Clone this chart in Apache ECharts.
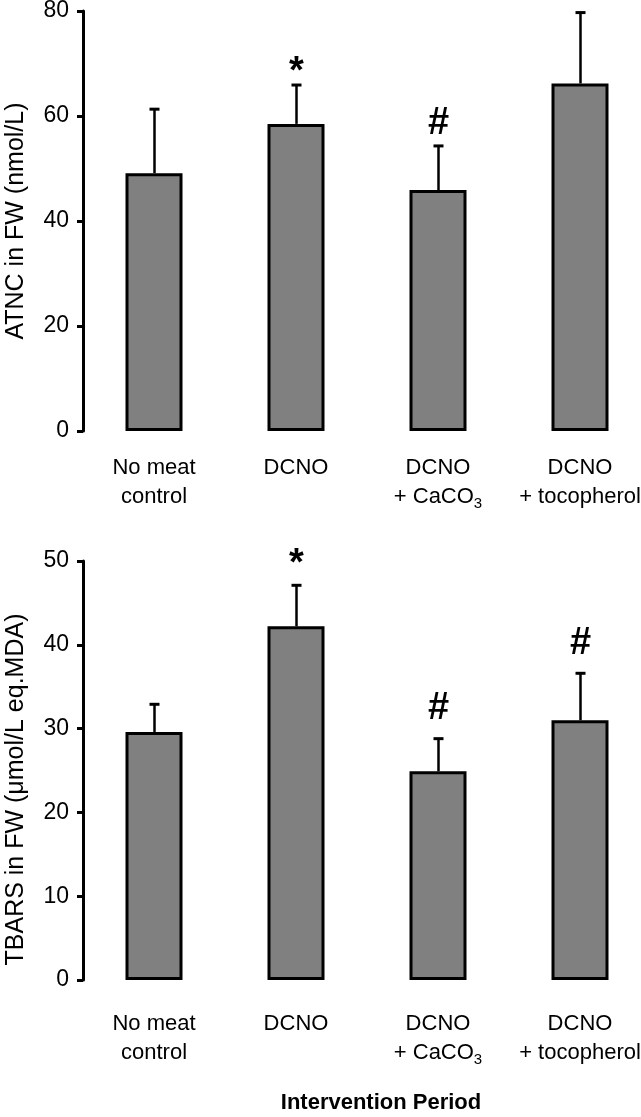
<!DOCTYPE html>
<html>
<head>
<meta charset="utf-8">
<script src="https://cdn.jsdelivr.net/npm/echarts@6/dist/echarts.min.js"></script>
<style>
  html, body { margin: 0; padding: 0; background: #fff; }
  #chart { width: 641px; height: 1117px; }
</style>
</head>
<body>
<div id="chart"></div>
<script>
// ---- data ----
var categories = ['No meat\ncontrol', 'DCNO', 'DCNO\n+ CaCO{sub|3}', 'DCNO\n+ tocopherol'];
var atncMean = [49.1, 58.5, 45.9, 66.2];
var atncSD = [12.2, 7.4, 8.4, 13.5];
var atncMarks = ['', '*', '#', ''];
var tbarsMean = [29.6, 42.2, 24.9, 31.0];
var tbarsSD = [3.3, 4.9, 3.9, 5.6];
var tbarsMarks = ['', '*', '#', '#'];
var atncTicks = { min: 0, max: 80, interval: 20 };
var tbarsTicks = { min: 0, max: 50, interval: 10 };

var FONT = '"Liberation Sans", Arial, Helvetica, sans-serif';

function errData(mean, sd) {
  return mean.map(function (m, i) { return [i, m, sd[i]]; });
}

function makeErrRender(marks, gap) {
  return function (params, api) {
    var i = api.value(0), m = api.value(1), sd = api.value(2);
    var mark = marks[params.dataIndex];
    var base = api.coord([i, m]);
    var top = api.coord([i, m + sd]);
    var x = Math.round(base[0]) + 0.5;
    var children = [
      { type: 'line', shape: { x1: x, y1: base[1], x2: x, y2: top[1] },
        style: { stroke: '#000', lineWidth: 2.5 } },
      { type: 'line', shape: { x1: x - 5, y1: top[1], x2: x + 5, y2: top[1] },
        style: { stroke: '#000', lineWidth: 3 } }
    ];
    if (mark) {
      var dy = mark === '*' ? gap - 9 : gap;
      children.push({
        type: 'text', x: x, y: top[1] - dy,
        style: { text: mark, fill: '#000', fontSize: 38, fontWeight: 'bold',
                 fontFamily: FONT, align: 'center', verticalAlign: 'middle' }
      });
    }
    return { type: 'group', children: children };
  };
}

var catLabel = function (margin) {
  return {
    interval: 0, margin: margin, color: '#000', fontSize: 22, lineHeight: 29,
    fontFamily: FONT,
    rich: { sub: { fontSize: 15, lineHeight: 15, verticalAlign: 'bottom', color: '#000', fontFamily: FONT } }
  };
};

var valAxis = function (ticks, gridIndex, name, pad) {
  return {
    type: 'value', gridIndex: gridIndex, min: ticks.min, max: ticks.max, interval: ticks.interval,
    name: name, nameLocation: 'middle', nameRotate: 90, nameGap: 54,
    nameTextStyle: { color: '#000', fontSize: 25, fontFamily: FONT, padding: pad },
    axisLine: { show: true, lineStyle: { color: '#000', width: 3 } },
    axisTick: { show: true, length: 6, inside: false, lineStyle: { color: '#000', width: 3 } },
    axisLabel: { color: '#000', fontSize: 23, fontFamily: FONT, margin: 14 },
    splitLine: { show: false }
  };
};

var chart = echarts.init(document.getElementById('chart'), null, { renderer: 'canvas' });
chart.setOption({
  backgroundColor: '#fff',
  animation: false,
  grid: [
    { left: 83, top: 11, width: 568, height: 420, containLabel: false, outerBoundsMode: 'none' },
    { left: 83, top: 561, width: 568, height: 419, containLabel: false, outerBoundsMode: 'none' }
  ],
  xAxis: [
    { type: 'category', gridIndex: 0, data: categories,
      axisLine: { show: false }, axisTick: { show: false }, axisLabel: catLabel(22), splitLine: { show: false } },
    { type: 'category', gridIndex: 1, data: categories,
      axisLine: { show: false }, axisTick: { show: false }, axisLabel: catLabel(29), splitLine: { show: false },
      name: 'Intervention Period', nameLocation: 'middle', nameGap: 112,
      nameTextStyle: { color: '#000', fontSize: 22, fontWeight: 'bold', fontFamily: FONT, padding: [0, 0, 0, 28] } }
  ],
  yAxis: [
    valAxis(atncTicks, 0, 'ATNC in FW (nmol/L)', [0, 0, 0, 0]),
    valAxis(tbarsTicks, 1, 'TBARS in FW (\u03bcmol/L eq.MDA)', [0, 38, 0, 0])
  ],
  series: [
    { type: 'bar', xAxisIndex: 0, yAxisIndex: 0, data: atncMean, barWidth: 57,
      itemStyle: { color: '#808080', borderColor: '#000', borderWidth: 3 } },
    { type: 'custom', xAxisIndex: 0, yAxisIndex: 0, data: errData(atncMean, atncSD),
      renderItem: makeErrRender(atncMarks, 22), z: 5 },
    { type: 'bar', xAxisIndex: 1, yAxisIndex: 1, data: tbarsMean, barWidth: 57,
      itemStyle: { color: '#808080', borderColor: '#000', borderWidth: 3 } },
    { type: 'custom', xAxisIndex: 1, yAxisIndex: 1, data: errData(tbarsMean, tbarsSD),
      renderItem: makeErrRender(tbarsMarks, 30), z: 5 }
  ]
});
</script>
</body>
</html>
